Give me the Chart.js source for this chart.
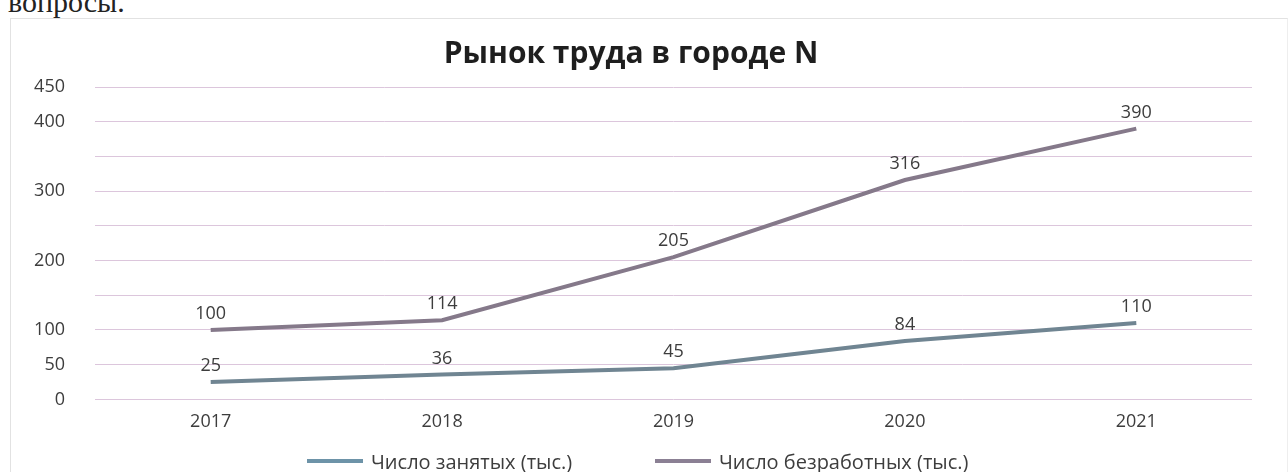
<!DOCTYPE html>
<html>
<head>
<meta charset="utf-8">
<script src="https://cdn.jsdelivr.net/npm/chart.js@4.4.1/dist/chart.umd.min.js"></script>
<style>
  html, body { margin: 0; padding: 0; background: #fff; overflow: hidden; }
  #wrap { position: relative; width: 1288px; height: 472px; }
  #frame { position: absolute; left: 10px; top: 18px; width: 1276px; height: 460px; border: 1px solid #e2e2e2; border-right-color: #eee; }
  #above { position: absolute; left: 8px; top: -15px; font: 30px "Liberation Serif", "DejaVu Serif", serif; color: #222; }
  canvas { position: absolute; left: 0; top: 0; }
  .leg { position: absolute; top: 449px; height: 24px; display: flex; align-items: center;
         font: 20px "Open Sans", "Noto Sans", sans-serif; color: #3d3d3d; white-space: nowrap; }
  .leg i { display: inline-block; width: 56px; height: 4px; margin-right: 8px; }
</style>
</head>
<body>
<div id="wrap">
  <div id="above">вопросы.</div>
  <div id="frame"></div>
  <canvas id="c" width="1288" height="472"></canvas>
</div>
<script>
const years = ['2017', '2018', '2019', '2020', '2021'];
const employed = [25, 36, 45, 84, 110];        // Число занятых (тыс.)
const unemployed = [100, 114, 205, 316, 390];  // Число безработных (тыс.)
const yTickLabels = [0, 50, 100, 200, 300, 400, 450];

const textColor = '#3d3d3d';
const font = '"Open Sans", "Noto Sans", sans-serif';

// numbers over the points
const valueLabels = {
  id: 'valueLabels',
  afterDatasetsDraw(chart) {
    const ctx = chart.ctx;
    ctx.save();
    ctx.font = '18px ' + font;
    ctx.fillStyle = textColor;
    ctx.textAlign = 'center';
    ctx.textBaseline = 'bottom';
    chart.data.datasets.forEach((ds, i) => {
      chart.getDatasetMeta(i).data.forEach((pt, j) => {
        ctx.fillText(String(ds.data[j]), pt.x, pt.y - 7);
      });
    });
    ctx.restore();
  }
};

const chart = new Chart(document.getElementById('c'), {
  type: 'line',
  data: {
    labels: years,
    datasets: [
      {
        label: 'Число занятых (тыс.)',
        data: employed,
        borderColor: '#708592',
        backgroundColor: '#6d93a8',
        borderWidth: 4,
        pointRadius: 0,
        tension: 0
      },
      {
        label: 'Число безработных (тыс.)',
        data: unemployed,
        borderColor: '#85798a',
        backgroundColor: '#8b8094',
        borderWidth: 4,
        pointRadius: 0,
        tension: 0
      }
    ]
  },
  plugins: [valueLabels],
  options: {
    responsive: false,
    animation: false,
    layout: { padding: { left: 10, right: 36, top: 20, bottom: 35 } },
    plugins: {
      title: {
        display: true,
        text: 'Рынок труда в городе N',
        color: '#1e1e1e',
        font: { family: font, size: 30, weight: 'bold' },
        padding: { top: 16, bottom: 15 }
      },
      legend: { display: false },
      tooltip: { enabled: false }
    },
    scales: {
      x: {
        offset: true,
        grid: { display: false },
        border: { display: false },
        ticks: { color: textColor, font: { family: font, size: 18 }, padding: 4 }
      },
      y: {
        min: 0,
        max: 450,
        afterFit: (s) => { s.width = 85; },
        border: { display: false },
        grid: { color: '#dcc6dc', lineWidth: 1, drawTicks: false },
        ticks: {
          stepSize: 50,
          color: textColor,
          font: { family: font, size: 18 },
          padding: 30,
          callback: (v) => yTickLabels.includes(v) ? String(v) : ''
        }
      }
    }
  }
});

// legend drawn as html under the chart
const legendLeft = [307, 655];
chart.data.datasets.forEach((ds, i) => {
  const d = document.createElement('div');
  d.className = 'leg';
  d.style.left = legendLeft[i] + 'px';
  const sw = document.createElement('i');
  sw.style.background = ds.backgroundColor;
  d.appendChild(sw);
  d.appendChild(document.createTextNode(ds.label));
  document.getElementById('wrap').appendChild(d);
});
</script>
</body>
</html>
